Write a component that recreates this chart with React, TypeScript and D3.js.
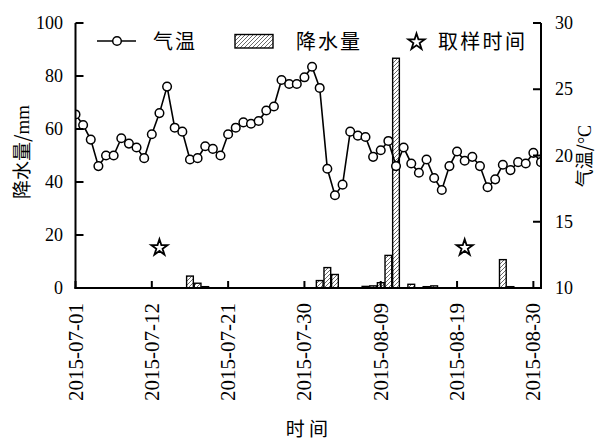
import React from "react";
import * as d3 from "d3";

// ---- data ----
const dayCount = 62; // 2015-07-01 .. 2015-08-31

const temperature = [
  23.1, 22.3, 21.2, 19.2, 20.0, 20.0, 21.3, 20.9, 20.6, 19.8,
  21.6, 23.2, 25.2, 22.1, 21.8, 19.7, 19.8, 20.7, 20.5, 20.0,
  21.6, 22.1, 22.5, 22.4, 22.6, 23.4, 23.7, 25.7, 25.4, 25.4,
  25.9, 26.7, 25.1, 19.0, 17.0, 17.8, 21.8, 21.5, 21.4, 19.9,
  20.4, 21.1, 19.2, 20.6, 19.4, 18.7, 19.7, 18.3, 17.4, 19.2,
  20.3, 19.6, 19.9, 19.2, 17.6, 18.2, 19.3, 18.9, 19.5, 19.4,
  20.2, 19.5,
];

const precipDays = [15, 16, 17, 32, 33, 34, 38, 39, 40, 41, 42, 44, 46, 47, 56, 57];
const precipValues = [4.5, 1.8, 0.5, 2.8, 7.7, 5.1, 0.6, 0.8, 2.0, 12.3, 86.7, 1.4, 0.5, 0.8, 10.7, 0.5];

const sampleDays = [11, 51];
const sampleMarkValue = 15.2; // drawn on the precipitation axis

const xTickIndex = [0, 10, 20, 30, 40, 50, 60];
const xTickLabels = ["2015-07-01", "2015-07-12", "2015-07-21", "2015-07-30", "2015-08-09", "2015-08-19", "2015-08-30"];
const leftTicks = [0, 20, 40, 60, 80, 100];
const rightTicks = [10, 15, 20, 25, 30];

const W = 603;
const H = 441;
const left = 75.5;
const right = 541;
const top = 23;
const bottom = 288;

const serif = "'Liberation Serif', 'Times New Roman', Times, 'DejaVu Serif', serif";
const cjk = "'Noto Sans CJK SC', sans-serif";

export default function App() {
  const x = d3.scaleLinear().domain([0, dayCount - 1]).range([left, right]);
  const yL = d3.scaleLinear().domain([0, 100]).range([bottom, top]);
  const yR = d3.scaleLinear().domain([10, 30]).range([bottom, top]);
  const step = x(1) - x(0);
  const barW = step * 0.88;

  const line = d3
    .line<number>()
    .x((_, i) => x(i))
    .y((d) => yR(d));

  const star = d3.symbol().type(d3.symbolStar).size(82)() as string;

  return (
    <svg width={W} height={H} style={{ display: "block", position: "absolute", left: 0, top: 0, background: "#fff" }}>
      <defs>
        <pattern id="hatch" patternUnits="userSpaceOnUse" width="4" height="4">
          <rect width="4" height="4" fill="#fff" />
          <path d="M-1,1 l2,-2 M0,4 l4,-4 M3,5 l2,-2" stroke="#444" strokeWidth="0.8" />
        </pattern>
        <clipPath id="plotClip">
          <rect x={left} y={0} width={right - left} height={bottom} />
        </clipPath>
      </defs>

      {/* bars */}
      {precipDays.map((d, i) => (
        <rect
          key={"b" + i}
          x={x(d) - barW / 2}
          y={yL(precipValues[i])}
          width={barW}
          height={bottom - yL(precipValues[i])}
          fill="url(#hatch)"
          stroke="#000"
          strokeWidth={1.4}
        />
      ))}

      {/* temperature line */}
      <g clipPath="url(#plotClip)">
        <path d={line(temperature) as string} fill="none" stroke="#000" strokeWidth={1.6} />
        {temperature.map((t, i) => (
          <circle key={"c" + i} cx={x(i)} cy={yR(t)} r={4.3} fill="#fff" stroke="#000" strokeWidth={1.5} />
        ))}
      </g>

      {/* sampling stars */}
      {sampleDays.map((d, i) => (
        <path
          key={"s" + i}
          d={star}
          transform={`translate(${x(d)},${yL(sampleMarkValue)})`}
          fill="#fff"
          stroke="#000"
          strokeWidth={1.8}
        />
      ))}

      {/* axes */}
      <g stroke="#000" strokeWidth={2} fill="none">
        <line x1={left} y1={top} x2={left} y2={bottom + 1} />
        <line x1={right} y1={top} x2={right} y2={bottom + 1} />
        <line x1={left - 1} y1={bottom} x2={right + 1} y2={bottom} />
        {leftTicks.map((t) => (
          <line key={"lt" + t} x1={left} x2={left + 8} y1={yL(t)} y2={yL(t)} />
        ))}
        {rightTicks.map((t) => (
          <line key={"rt" + t} x1={right - 8} x2={right} y1={yR(t)} y2={yR(t)} />
        ))}
        {xTickIndex.map((t) => (
          <line key={"xt" + t} x1={x(t)} x2={x(t)} y1={bottom} y2={bottom - 7} />
        ))}
      </g>

      {/* tick labels */}
      <g style={{ fontFamily: serif }} fontSize={18} fill="#000">
        {leftTicks.map((t) => (
          <text key={"ll" + t} x={63} y={yL(t) + 6} textAnchor="end">
            {t}
          </text>
        ))}
        {rightTicks.map((t) => (
          <text key={"rl" + t} x={555} y={yR(t) + 6} textAnchor="start">
            {t}
          </text>
        ))}
      </g>
      <g style={{ fontFamily: serif }} fontSize={21} fill="#000">
        {xTickIndex.map((t, i) => (
          <text
            key={"xl" + t}
            transform={`translate(${x(t) + 7},${303}) rotate(-90)`}
            textAnchor="end"
          >
            {xTickLabels[i]}
          </text>
        ))}
      </g>

      {/* axis titles */}
      <text transform="translate(29,152) rotate(-90)" textAnchor="middle" style={{ fontFamily: cjk }} fontSize={19} fill="#000">
        降水量/<tspan style={{ fontFamily: serif }}>mm</tspan>
      </text>
      <text transform="translate(591,156) rotate(-90)" textAnchor="middle" style={{ fontFamily: cjk }} fontSize={18} fill="#000">
        气温/<tspan style={{ fontFamily: serif }}>°C</tspan>
      </text>
      <text x={307} y={436} textAnchor="middle" style={{ fontFamily: cjk }} fontSize={19} fill="#000">
        时 间
      </text>

      {/* legend */}
      <g>
        <line x1={97} x2={136} y1={41} y2={41} stroke="#000" strokeWidth={1.6} />
        <circle cx={117} cy={41} r={4.3} fill="#fff" stroke="#000" strokeWidth={1.5} />
        <text x={153} y={49} style={{ fontFamily: cjk }} fontSize={20} letterSpacing={2} fill="#000">
          气温
        </text>
        <rect x={235} y={34.5} width={38} height={13.5} fill="url(#hatch)" stroke="#000" strokeWidth={1.4} />
        <text x={296} y={49} style={{ fontFamily: cjk }} fontSize={20} letterSpacing={2} fill="#000">
          降水量
        </text>
        <path d={star} transform="translate(416.5,42)" fill="#fff" stroke="#000" strokeWidth={1.8} />
        <text x={438} y={49} style={{ fontFamily: cjk }} fontSize={20} letterSpacing={2.3} fill="#000">
          取样时间
        </text>
      </g>
    </svg>
  );
}
